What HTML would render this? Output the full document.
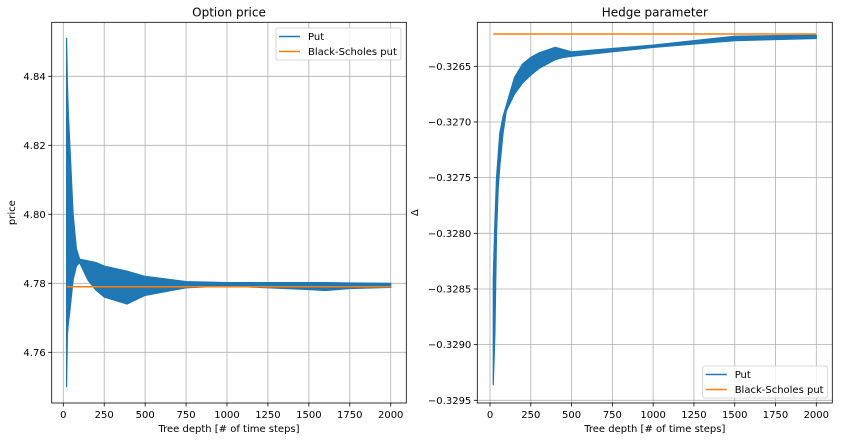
<!DOCTYPE html>
<html><head><meta charset="utf-8"><style>
body{margin:0;background:#fff;}
svg text{font-family:"DejaVu Sans","Liberation Sans",sans-serif;fill:#000;}
</style></head><body>
<svg id="fig" width="842" height="441" xmlns="http://www.w3.org/2000/svg"></svg>
<script>
// Left chart data (Option price)
const priceX = [20,25,30,40,60,80,100,150,200,250,390,500,750,1000,1250,1500,1600,1750,2000];
const priceUpper = [4.851,4.838,4.830,4.820,4.800,4.790,4.787,4.7865,4.786,4.785,4.7835,4.782,4.7805,4.7802,4.7802,4.7802,4.7802,4.7801,4.7800];
const priceLower = [4.750,4.765,4.768,4.772,4.781,4.785,4.786,4.781,4.778,4.776,4.774,4.7765,4.7787,4.7792,4.7787,4.7782,4.7779,4.7785,4.7788];
const priceBS = 4.779;
const priceYTicks = [4.76,4.78,4.80,4.82,4.84];
// Right chart data (Hedge parameter)
const deltaX = [20,30,40,50,60,80,100,150,200,250,300,400,450,500,750,1000,1500,2000];
const deltaUpper = [-0.3284,-0.3279,-0.3275,-0.3273,-0.3271,-0.32695,-0.32685,-0.3266,-0.32648,-0.32642,-0.32638,-0.32633,-0.32635,-0.32637,-0.32634,-0.32631,-0.32623,-0.32622];
const deltaLower = [-0.32936,-0.3289,-0.3280,-0.3276,-0.3274,-0.3271,-0.3269,-0.32675,-0.32665,-0.32658,-0.32652,-0.32644,-0.32642,-0.32641,-0.32637,-0.32633,-0.32627,-0.32625];
const deltaBS = -0.32621;
const deltaYTicks = [-0.3295,-0.3290,-0.3285,-0.3280,-0.3275,-0.3270,-0.3265];
const xTicks = [0,250,500,750,1000,1250,1500,1750,2000];
const bsStart = 20, bsEnd = 2000;

const NS="http://www.w3.org/2000/svg";
const svg=document.getElementById('fig');
function mk(tag,attrs,parent){const e=document.createElementNS(NS,tag);for(const k in attrs)e.setAttribute(k,attrs[k]);(parent||svg).appendChild(e);return e;}

function drawChart(cfg){
  const g=mk('g',{});
  
  
  const sx=v=>cfg.x0px+(v-0)*(cfg.x2000px-cfg.x0px)/2000;
  const sy=v=>cfg.yA+(cfg.vA-v)*(cfg.yB-cfg.yA)/(cfg.vA-cfg.vB);
  // grid
  xTicks.forEach(t=>{
    const l=mk('line',{x1:sx(t),x2:sx(t),y1:cfg.top,y2:cfg.bottom,stroke:'#b0b0b0','stroke-width':0.8},g);
    
    
  });
  cfg.yTicks.forEach(t=>{
    const l=mk('line',{x1:cfg.left,x2:cfg.right,y1:sy(t),y2:sy(t),stroke:'#b0b0b0','stroke-width':0.8},g);
    
    
  });
  // band
  let pts=cfg.xs.map((x,i)=>sx(x)+','+sy(cfg.up[i]));
  for(let i=cfg.xs.length-1;i>=0;i--)pts.push(sx(cfg.xs[i])+','+sy(cfg.lo[i]));
  const band=mk('polygon',{points:pts.join(' '),fill:'#1f77b4',stroke:'#1f77b4','stroke-width':1.2,'stroke-linejoin':'round'},g);
  
  
  const bs=mk('line',{x1:sx(bsStart),x2:sx(bsEnd),y1:sy(cfg.bs),y2:sy(cfg.bs),stroke:'#ff7f0e','stroke-width':1.5},g);
  
  
  // frame
  const fr=mk('rect',{x:cfg.left,y:cfg.top,width:cfg.right-cfg.left,height:cfg.bottom-cfg.top,fill:'none',stroke:'#000','stroke-width':0.8},g);
  
  
  xTicks.forEach(t=>{
    mk('line',{x1:sx(t),x2:sx(t),y1:cfg.bottom,y2:cfg.bottom+3.5,stroke:'#000','stroke-width':0.8},g);
    const tx=mk('text',{x:sx(t),y:cfg.bottom+15,'text-anchor':'middle','font-size':10},g);
    tx.textContent=t;
    
    
  });
  cfg.yTicks.forEach(t=>{
    mk('line',{x1:cfg.left-3.5,x2:cfg.left,y1:sy(t),y2:sy(t),stroke:'#000','stroke-width':0.8},g);
    const tx=mk('text',{x:cfg.left-6,y:sy(t)+3.5,'text-anchor':'end','font-size':10},g);
    tx.textContent=cfg.fmt(t);
    
    
  });
  const ti=mk('text',{x:(cfg.left+cfg.right)/2,y:cfg.top-6,'text-anchor':'middle','font-size':12},g);
  ti.textContent=cfg.title;
  
  
  const xl=mk('text',{x:(cfg.left+cfg.right)/2,y:cfg.bottom+29,'text-anchor':'middle','font-size':10},g);
  xl.textContent='Tree depth [# of time steps]';
  
  
  const yl=mk('text',{x:cfg.ylx,y:(cfg.top+cfg.bottom)/2,'text-anchor':'middle','font-size':10,transform:`rotate(-90 ${cfg.ylx} ${(cfg.top+cfg.bottom)/2})`},g);
  yl.textContent=cfg.ylabel;
  
  
  // legend
  const lg=mk('g',{},g);
  
  
  mk('rect',{x:cfg.lx,y:cfg.ly,width:125,height:32,rx:2,fill:'#fff','fill-opacity':0.8,stroke:'#ccc','stroke-width':0.8},lg);
  [['Put','#1f77b4'],['Black-Scholes put','#ff7f0e']].forEach((e,i)=>{
    const y=cfg.ly+8.5+i*15;
    const it=mk('g',{},lg);
    
    
    mk('line',{x1:cfg.lx+3,x2:cfg.lx+24,y1:y,y2:y,stroke:e[1],'stroke-width':1.5},it);
    const t=mk('text',{x:cfg.lx+32,y:y+3.5,'font-size':10},it);
    t.textContent=e[0];
  });
}
drawChart({name:'option-price-chart',left:51.7,right:406.3,top:22.3,bottom:403,x0px:63.3,x2000px:390.7,
  yA:76.3,vA:4.84,yB:352.3,vB:4.76,yTicks:priceYTicks,xs:priceX,up:priceUpper,lo:priceLower,bs:priceBS,
  fmt:v=>v.toFixed(2),title:'Option price',ylabel:'price',ylx:15,lx:276,ly:28});
drawChart({name:'hedge-parameter-chart',left:477.3,right:832.3,top:22.3,bottom:403,x0px:490,x2000px:816.3,
  yA:66.3,vA:-0.3265,yB:400.3,vB:-0.3295,yTicks:deltaYTicks,xs:deltaX,up:deltaUpper,lo:deltaLower,bs:deltaBS,
  fmt:v=>'\u2212'+Math.abs(v).toFixed(4),title:'Hedge parameter',ylabel:'Δ',ylx:418,lx:702.7,ly:366});
</script>
</body></html>
